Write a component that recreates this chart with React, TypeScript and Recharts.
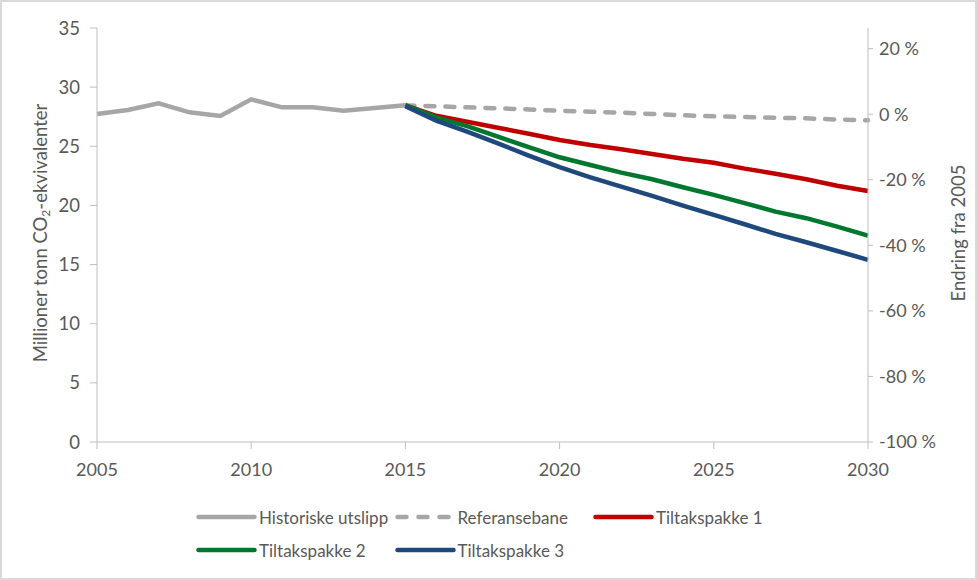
import { LineChart, Line, XAxis, YAxis, Legend } from 'recharts';

const years = [
  2005, 2006, 2007, 2008, 2009, 2010, 2011, 2012, 2013, 2014, 2015, 2016, 2017, 2018, 2019, 2020,
  2021, 2022, 2023, 2024, 2025, 2026, 2027, 2028, 2029, 2030,
];

// 2005-2015
const historiske = [27.73, 28.07, 28.63, 27.87, 27.56, 28.97, 28.29, 28.29, 28.01, 28.23, 28.46];

// 2015-2030
const referansebane = [
  28.46, 28.38, 28.29, 28.21, 28.11, 28.01, 27.92, 27.84, 27.73, 27.62, 27.53, 27.47, 27.42, 27.36,
  27.26, 27.2,
];
const tiltakspakke1 = [
  28.46, 27.58, 27.08, 26.57, 26.06, 25.53, 25.11, 24.75, 24.35, 23.95, 23.61, 23.11, 22.68, 22.21,
  21.67, 21.22,
];
const tiltakspakke2 = [
  28.46, 27.45, 26.71, 25.81, 24.92, 24.07, 23.42, 22.77, 22.21, 21.54, 20.89, 20.19, 19.48, 18.92,
  18.21, 17.45,
];
const tiltakspakke3 = [
  28.38, 27.16, 26.23, 25.25, 24.21, 23.23, 22.38, 21.59, 20.8, 19.98, 19.2, 18.41, 17.59, 16.89,
  16.15, 15.4,
];

const xTicks = [2005, 2010, 2015, 2020, 2025, 2030];
const leftTicks = [0, 5, 10, 15, 20, 25, 30, 35];
const rightTicks = [-100, -80, -60, -40, -20, 0, 20];

const FONT = 'Lato, "Liberation Sans", sans-serif';
const TEXT = '#595959';
const AXIS = '#bfbfbf';

const data = years.map((year, i) => {
  const j = i - 10;
  return {
    year,
    hist: i < historiske.length ? historiske[i] : null,
    ref: j >= 0 ? referansebane[j] : null,
    t1: j >= 0 ? tiltakspakke1[j] : null,
    t2: j >= 0 ? tiltakspakke2[j] : null,
    t3: j >= 0 ? tiltakspakke3[j] : null,
  };
});

// legend laid out in a three-column grid like the original
function LegendGrid({ payload }: any) {
  const items = payload || [];
  return (
    <div style={{ position: 'relative', width: 977, height: 80, fontFamily: FONT }}>
      {items.map((entry: any, i: number) => {
        const col = i < 3 ? i : i - 3;
        const row = i < 3 ? 0 : 1;
        const dash = entry.payload?.strokeDasharray;
        return (
          <div
            key={entry.value}
            style={{
              position: 'absolute',
              left: 196 + col * 198.5,
              top: 4 + row * 33,
              display: 'flex',
              alignItems: 'center',
              height: 26,
            }}
          >
            <svg width={61} height={10} style={{ marginRight: 2 }}>
              <line
                x1={2.5}
                y1={5}
                x2={58.5}
                y2={5}
                stroke={entry.color}
                strokeWidth={4.5}
                strokeLinecap="round"
                strokeDasharray={dash ? '9 12' : undefined}
              />
            </svg>
            <span style={{ color: TEXT, fontSize: 17 }}>{entry.value}</span>
          </div>
        );
      })}
    </div>
  );
}

export default function App() {
  return (
    <div style={{ position: 'relative', width: 977, height: 580, background: '#fff' }}>
      <style>{`body{margin:0}`}</style>
      <LineChart
        width={977}
        height={580}
        data={data}
        margin={{ top: 28, right: 0, left: 0, bottom: 0 }}
        style={{ fontFamily: FONT }}
      >
        <XAxis
          dataKey="year"
          type="number"
          domain={[2005, 2030]}
          ticks={xTicks}
          height={58}
          stroke={AXIS}
          tickSize={7}
          tickMargin={14}
          tick={{ fill: TEXT, fontSize: 18 }}
        />
        <YAxis
          yAxisId="left"
          domain={[0, 35]}
          ticks={leftTicks}
          width={97}
          stroke={AXIS}
          tickSize={7}
          tickMargin={10}
          tick={{ fill: TEXT, fontSize: 18.5 }}
          label={{
            content: () => (
              <text
                x={40}
                y={233}
                transform="rotate(-90 40 233)"
                textAnchor="middle"
                dominantBaseline="central"
                fill={TEXT}
                fontSize={18.5}
                fontFamily={FONT}
              >
                Millioner tonn CO
                <tspan fontSize={12} dy={5}>
                  2
                </tspan>
                <tspan dy={-5}>-ekvivalenter</tspan>
              </text>
            ),
          }}
        />
        <YAxis
          yAxisId="right"
          orientation="right"
          type="number"
          domain={[-100, 26.3]}
          allowDataOverflow
          ticks={rightTicks}
          width={109}
          stroke={AXIS}
          tickSize={5}
          tickMargin={6}
          tickFormatter={(v: number) => `${v} %`}
          tick={{ fill: TEXT, fontSize: 18 }}
          label={{
            content: () => (
              <text
                x={958}
                y={233}
                transform="rotate(-90 958 233)"
                textAnchor="middle"
                dominantBaseline="central"
                fill={TEXT}
                fontSize={18.5}
                fontFamily={FONT}
              >
                Endring fra 2005
              </text>
            ),
          }}
        />
        <Legend
          verticalAlign="bottom"
          content={<LegendGrid />}
          wrapperStyle={{ left: 0, bottom: 0, width: 977, height: 80 }}
        />
        <Line
          yAxisId="left"
          dataKey="hist"
          name="Historiske utslipp"
          stroke="#a6a6a6"
          strokeWidth={4.5}
          dot={false}
          isAnimationActive={false}
        />
        <Line
          yAxisId="left"
          dataKey="ref"
          name="Referansebane"
          stroke="#a6a6a6"
          strokeWidth={4.5}
          strokeDasharray="9 11"
          strokeLinecap="round"
          dot={false}
          isAnimationActive={false}
        />
        <Line
          yAxisId="left"
          dataKey="t1"
          name="Tiltakspakke 1"
          stroke="#c00000"
          strokeWidth={4.5}
          dot={false}
          isAnimationActive={false}
        />
        <Line
          yAxisId="left"
          dataKey="t2"
          name="Tiltakspakke 2"
          stroke="#00772f"
          strokeWidth={4.5}
          dot={false}
          isAnimationActive={false}
        />
        <Line
          yAxisId="left"
          dataKey="t3"
          name="Tiltakspakke 3"
          stroke="#1f497d"
          strokeWidth={4.5}
          dot={false}
          isAnimationActive={false}
        />
      </LineChart>
      <div
        style={{
          position: 'absolute',
          inset: 0,
          border: '2px solid #d9d9d9',
          boxSizing: 'border-box',
          pointerEvents: 'none',
        }}
      />
    </div>
  );
}
